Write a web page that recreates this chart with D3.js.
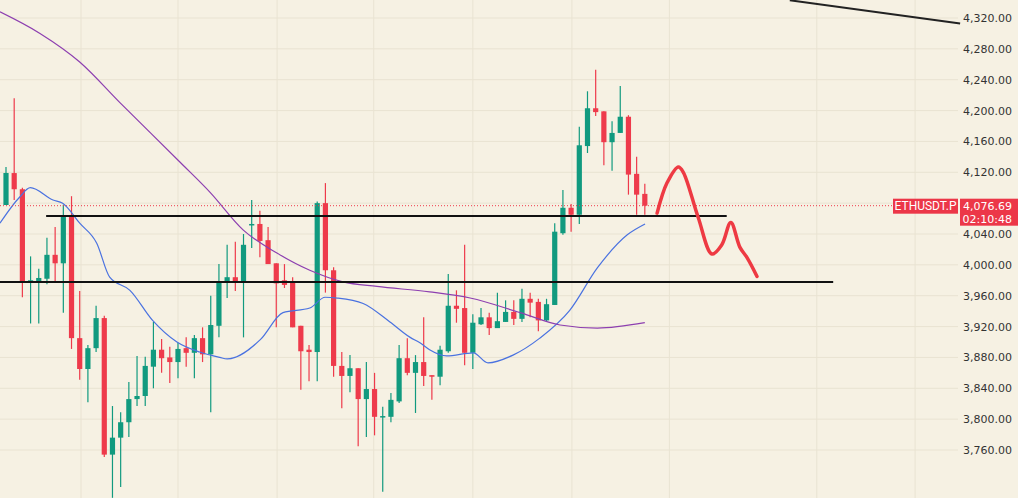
<!DOCTYPE html>
<html><head><meta charset="utf-8">
<script src="https://cdn.jsdelivr.net/npm/d3@7/dist/d3.min.js"></script>
<style>body{margin:0;background:#f6f1e3;}svg{display:block;}</style>
</head><body><svg id="c" width="1018" height="498"></svg>
<script>
const opens  = [4077.6,4119,4098,3978,3979,3982,4013,4002,4062,3905,3865,3892,3931,3754,3776,3796,3826,3830,3868,3890,3880,3874,3892,3886,3905,3884,3921,3978,3984,3978,4053,4053,4032,4002,3980,3978,3921,3890,3887,4080,3993,3869,3856,3866,3826,3839,3803,3803,3823,3879,3860,3874,3857,3855,3888,3947,3944,3886,3923,3932,3918,3926,3939,3930,3956,3952,3928,3948,4041,4074,4065,4154,4203,4199,4159,4171,4192,4118,4092];
const highs  = [4126.8,4216,4100,4011,3995,4035,4049,4078,4089,3966,3896,3947,3934,3817,3809,3848,3882,3881,3926,3904,3894,3899,3906,3909,3919,3960,4001,4026,4030,4040,4084,4070,4049,4002,4001,3984,3921,3896,4082,4106,3997,3887,3883,3866,3874,3860,3816,3834,3896,3905,3883,3932,3857,3895,3988,3967,4026,3936,3944,3938,3964,3954,3954,3969,3964,3956,3956,4054,4097,4079,4179,4225,4253,4199,4186,4232,4194,4140,4105];
const lows   = [4077.6,4084,3958,3924,3924,3975,3978,3938,3891,3851,3822,3887,3751,3698,3712,3777,3817,3817,3840,3860,3847,3853,3868,3853,3874,3809,3906,3957,3966,3906,4022,4010,4001,3919,3970,3919,3838,3849,3849,3964,3855,3814,3835,3765,3777,3779,3706,3796,3821,3857,3808,3843,3825,3844,3886,3925,3870,3865,3922,3909,3918,3926,3922,3926,3932,3914,3927,3948,4039,4043,4053,4145,4193,4129,4122,4171,4091,4065,4065];
const closes = [4119.1,4098,3978,3980,3983,4013,4002,4062,3905,3865,3892,3931,3754,3776,3796,3826,3830,3869,3890,3879,3874,3891,3886,3905,3884,3922,3978,3984,3978,4026,4053,4031,4001,3976,3974,3919,3888,3887,4080,3993,3869,3856,3866,3826,3839,3803,3804,3825,3879,3860,3874,3856,3855,3890,3947,3943,3886,3925,3932,3918,3927,3939,3930,3956,3951,3928,3949,4043,4074,4065,4155,4203,4198,4159,4171,4192,4117,4091,4076.69];
const blueIdx = [-0.74,1.68,2.97,5.74,6.92,9.0,11.08,12.66,15.13,17.9,20.87,23.64,26.11,27.0,31.05,33.82,37.09,38.97,40.45,43.61,46.88,49.35,50.54,51.72,53.8,57.06,58.85,61.91,65.18,68.83,72.2,75.86,78.03];
const blueVal = [4054,4088,4100,4084,4080,4054,4028,3984,3967,3928,3900,3887,3880,3878,3903,3938,3944,3958,3957,3950,3926,3906,3899,3890,3882,3886,3873,3883,3905,3941,3996,4039,4053];
const purpIdx = [-0.73,4.15,9.0,13.94,21.26,24.92,28.98,33.13,37.09,41.14,45.3,51.72,56.67,62.8,67.65,72.2,78.0];
const purpVal = [4328,4300,4263,4210,4133,4094,4045,4015,3993,3978,3972,3965,3957,3938,3922,3918,3925];
const drawIdx = [79.5,80.7,82.1,82.7,84.5,86.2,87.4,88.5,89.6,90.5,91.7];
const drawVal = [4067,4106,4127,4120,4062,4014,4026,4055,4023,4009,3985];
const levels = [{p:4063.3,a:4.9,b:88.0}, {p:3977.7,a:-0.8,b:101}];
const trendIdx=[95.7,116.5], trendVal=[4343,4313];
const gridIdx = [9.16,21,33.1,44.9,57,69.1,81,99,111];
const yTicks = d3.range(3760,4321,40);
const lastPrice = 4076.69, symbol="ETHUSDT.P", countdown="02:10:48";

const svg=d3.select("#c");
const x=d3.scaleLinear().domain([0,1]).range([6,14.19]);
const y=d3.scaleLinear().domain([4320,3760]).range([18,450]);
svg.append("rect").attr("width",1018).attr("height",498).attr("fill","#f6f1e3");
const g=svg.append("g");
g.selectAll(".hg").data(yTicks).join("line").attr("x1",0).attr("x2",958).attr("y1",d=>y(d)).attr("y2",d=>y(d)).attr("stroke","#e9e3d2").attr("stroke-width",1);
g.selectAll(".vg").data(gridIdx).join("line").attr("x1",d=>x(d)).attr("x2",d=>x(d)).attr("y1",0).attr("y2",498).attr("stroke","#e9e3d2");
const data=opens.map((o,i)=>({i,o,h:highs[i],l:lows[i],c:closes[i]}));
const col=d=>d.c>=d.o?"#119a7f":"#ee3a4b";
g.selectAll(".w").data(data).join("line").attr("x1",d=>x(d.i)).attr("x2",d=>x(d.i)).attr("y1",d=>y(d.h)).attr("y2",d=>y(d.l)).attr("stroke",col).attr("stroke-width",1.2);
g.selectAll(".b").data(data).join("rect").attr("x",d=>x(d.i)-2.6).attr("width",5.2)
 .attr("y",d=>y(Math.max(d.o,d.c))).attr("height",d=>Math.max(1.5,Math.abs(y(d.o)-y(d.c)))).attr("fill",col);
const line=d3.line().x(d=>x(d[0])).y(d=>y(d[1])).curve(d3.curveMonotoneX);
g.append("path").attr("d",line(blueIdx.map((v,i)=>[v,blueVal[i]]))).attr("fill","none").attr("stroke","#4a72e0").attr("stroke-width",1.2);
g.append("path").attr("d",line(purpIdx.map((v,i)=>[v,purpVal[i]]))).attr("fill","none").attr("stroke","#8d3fb0").attr("stroke-width",1.2);
g.selectAll(".lv").data(levels).join("line").attr("x1",d=>x(d.a)).attr("x2",d=>x(d.b)).attr("y1",d=>y(d.p)).attr("y2",d=>y(d.p)).attr("stroke","#111").attr("stroke-width",2);
g.append("line").attr("x1",x(trendIdx[0])).attr("x2",x(trendIdx[1])).attr("y1",y(trendVal[0])).attr("y2",y(trendVal[1])).attr("stroke","#222").attr("stroke-width",2);
g.append("line").attr("x1",0).attr("x2",958).attr("y1",y(lastPrice)).attr("y2",y(lastPrice)).attr("stroke","#ee3a4b").attr("stroke-width",1).attr("stroke-dasharray","1,2");
g.append("path").attr("d",d3.line().x(d=>x(d[0])).y(d=>y(d[1])).curve(d3.curveCatmullRom)(drawIdx.map((v,i)=>[v,drawVal[i]])))
 .attr("fill","none").attr("stroke","#ee3a43").attr("stroke-width",3.5).attr("stroke-linecap","round").attr("stroke-linejoin","round");
const ly=y(lastPrice);
g.selectAll(".yt").data(yTicks.filter(d=>Math.abs(y(d)-ly)>16)).join("text").attr("x",1012).attr("y",d=>y(d)+4).attr("text-anchor","end")
 .attr("font-family","'DejaVu Sans',sans-serif").attr("font-size",11).attr("fill","#333").text(d=>d3.format(",.2f")(d));
g.append("rect").attr("x",893).attr("y",ly-7).attr("width",65).attr("height",15).attr("fill","#ec3748");
g.append("text").attr("x",925.5).attr("y",ly+4.5).attr("text-anchor","middle").attr("font-family","'Liberation Sans Narrow','Roboto',sans-serif").attr("font-size",12).attr("fill","#fff").text(symbol);
g.append("rect").attr("x",960).attr("y",ly-7).attr("width",58).attr("height",27).attr("fill","#ec3748");
g.append("text").attr("x",1012).attr("y",ly+4).attr("text-anchor","end").attr("font-family","'DejaVu Sans',sans-serif").attr("font-size",11).attr("fill","#fff").text(d3.format(",.2f")(lastPrice));
g.append("text").attr("x",1012).attr("y",ly+17).attr("text-anchor","end").attr("font-family","'DejaVu Sans',sans-serif").attr("font-size",11).attr("fill","#fff").text(countdown);
</script></body></html>
